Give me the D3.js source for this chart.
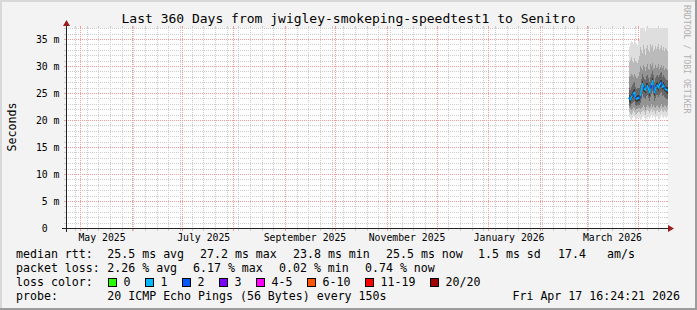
<!DOCTYPE html>
<html>
<head>
<meta charset="utf-8">
<script src="https://cdn.jsdelivr.net/npm/d3@7"></script>
<style>
  html, body { margin: 0; padding: 0; background: #f3f3f3; }
  svg { display: block; }
  text { white-space: pre; font-family: "DejaVu Sans Mono", monospace; }
</style>
</head>
<body>
<script>
// time frame of the graph
const endTime = new Date(Date.UTC(2026, 3, 17, 16, 24, 21));
const spanDays = 360;
const dataStart = new Date(Date.UTC(2026, 2, 26, 11, 0, 0));
const stepHours = 14.4;

// median rtt (ms) per step
const median = [24.0,23.8,24.3,24.6,24.9,25.1,24.2,23.9,24.0,24.1,24.1,24.6,25.6,26.7,26.0,25.7,25.6,26.2,26.3,25.8,
  25.1,25.9,26.6,27.2,26.4,25.1,25.8,26.3,26.4,26.0,26.5,26.8,26.9,26.1,26.4,26.0,25.7,25.6,25.5];
// lost pings (out of 20) per step
const loss = [0.3,1.1,0.6,0.4,1.2,0.6,0.3,1.1,0.3,0.2,0.4,1.1,0.3,0.2,0.5,1.1,0.4,0.3,1.2,0.6,
  0.2,0.4,1.1,0.3,0.5,1.1,0.4,0.3,1.15,0.5,0.4,0.3,0.6,1.05,0.4,0.3,1.1,0.1,0.15];

// smoke: sorted ping rtt pairs, outer to inner
const smoke1Hi = [33.5,34.2,34.6,34.4,34.0,34.8,34.5,34.3,33.9,34.6,35.0,38.5,38.0,37.2,38.5,38.8,36.5,38.0,38.6,38.2,
  37.5,38.8,38.4,38.9,37.8,38.2,38.6,38.0,38.4,38.9,37.6,38.3,38.6,38.1,38.7,37.9,38.4,38.2,37.8];
const smoke1Lo = [20.6,20.2,20.0,20.4,20.8,20.5,19.8,20.1,20.3,20.6,20.4,19.9,20.2,20.5,20.7,20.3,19.6,20.4,20.8,20.6,
  20.1,20.5,20.9,20.3,20.7,20.5,20.0,20.6,20.8,20.4,20.2,20.6,20.9,20.5,20.3,20.7,20.6,20.4,20.8];
const smoke2Hi = [30.8,31.2,31.6,31.0,30.6,31.4,31.0,30.8,30.5,31.2,31.8,33.6,33.0,32.4,33.8,33.2,32.0,33.4,33.9,33.0,
  32.6,34.0,33.5,33.8,32.8,33.2,33.7,33.1,33.5,34.0,32.9,33.4,33.8,33.0,33.6,32.8,33.3,33.1,32.7];
const smoke2Lo = [21.5,21.2,21.0,21.3,21.7,21.4,20.9,21.1,21.3,21.5,21.4,21.2,21.4,21.6,21.8,21.5,20.9,21.6,21.9,21.7,
  21.3,21.6,22.0,21.5,21.8,21.6,21.2,21.7,21.9,21.5,21.4,21.7,22.0,21.6,21.5,21.8,21.7,21.5,21.9];
const smoke3Hi = [28.0,28.2,28.6,28.4,28.0,28.5,28.1,27.8,27.7,28.2,28.8,30.0,29.6,29.2,30.2,29.8,29.0,29.8,30.3,29.5,
  29.2,30.4,30.0,30.5,29.4,29.7,30.1,29.6,29.9,30.4,29.5,29.9,30.2,29.6,30.0,29.3,29.7,29.5,29.2];
const smoke3Lo = [22.2,22.0,21.9,22.1,22.4,22.2,21.8,22.0,22.1,22.3,22.2,22.0,22.3,22.5,22.7,22.4,21.9,22.5,22.8,22.6,
  22.2,22.5,22.9,22.4,22.7,22.5,22.2,22.6,22.8,22.4,22.3,22.6,22.9,22.5,22.4,22.7,22.6,22.4,22.8];
const smoke4Hi = [25.9,25.6,26.2,26.5,26.8,27.0,26.1,25.7,25.9,26.0,26.0,26.5,27.6,28.6,28.0,27.6,27.5,28.1,28.3,27.7,
  27.0,27.9,28.5,29.0,28.3,27.1,27.7,28.2,28.4,27.9,28.4,28.7,28.8,28.0,28.3,27.9,27.6,27.5,27.4];
const smoke4Lo = [22.7,22.5,22.9,23.2,23.4,23.6,22.8,22.6,22.7,22.8,22.8,23.1,23.9,24.8,24.3,24.0,23.9,24.5,24.6,24.1,
  23.5,24.2,24.8,25.3,24.6,23.6,24.1,24.6,24.7,24.3,24.7,25.0,25.1,24.4,24.7,24.3,24.0,23.9,23.8];
const smoke5Hi = [24.6,24.4,24.9,25.2,25.5,25.7,24.8,24.5,24.6,24.7,24.7,25.2,26.2,27.3,26.6,26.3,26.2,26.8,26.9,26.4,
  25.7,26.5,27.2,27.8,27.0,25.7,26.4,26.9,27.0,26.6,27.1,27.4,27.5,26.7,27.0,26.6,26.3,26.2,26.1];
const smoke5Lo = [23.4,23.2,23.7,24.0,24.3,24.5,23.6,23.3,23.4,23.5,23.5,24.0,25.0,26.1,25.4,25.1,25.0,25.6,25.7,25.2,
  24.5,25.3,26.0,26.6,25.8,24.5,25.2,25.7,25.8,25.4,25.9,26.2,26.3,25.5,25.8,25.4,25.1,25.0,24.9];

// axis ticks
const yTicks = [0, 5, 10, 15, 20, 25, 30, 35];
const yLabels = ['0  ', '5 m', '10 m', '15 m', '20 m', '25 m', '30 m', '35 m'];
const xLabelAt = ['2025-05-14T00:00Z', '2025-07-14T00:00Z', '2025-09-12T18:00Z', '2025-11-13T00:00Z', '2026-01-13T06:00Z', '2026-03-16T06:00Z'];
const xLabels = ['May 2025', 'July 2025', 'September 2025', 'November 2025', 'January 2026', 'March 2026'];

// legend
const lossLabels = ['0', '1', '2', '3', '4-5', '6-10', '11-19', '20/20'];
const lossUpper = [0, 1, 2, 3, 5, 10, 19, 20];
const lossColors = ['#26ff00', '#00b8ff', '#0059ff', '#7e00ff', '#ff00ff', '#ff5500', '#ff0000', '#a10000'];
const rttStats = ['25.5 ms avg', '27.2 ms max', '23.8 ms min', '25.5 ms now', '1.5 ms sd', '17.4', 'am/s'];
const lossStats = ['2.26 % avg', '6.17 % max', '0.02 % min', '0.74 % now'];
const probeText = '20 ICMP Echo Pings (56 Bytes) every 150s';
const stampText = 'Fri Apr 17 16:24:21 2026';

// canvas
const w = 697, h = 310;
const X0 = 66, X1 = 666, Y0 = 228, Y1 = 28;

const svg = d3.select('body').append('svg')
  .attr('width', w)
  .attr('height', h);

svg.append('rect').attr('width', w).attr('height', h).attr('fill', '#f3f3f3');
// shaded frame
svg.append('path').attr('d', `M0,0H${w}V2H2V${h}H0Z`).attr('fill', '#d8d8d8');
svg.append('path').attr('d', `M${w},${h}H0V${h-2}H${w-2}V0H${w}Z`).attr('fill', '#9c9c9c');

svg.append('rect')
  .attr('x', X0).attr('y', Y1)
  .attr('width', X1 - X0 + 2).attr('height', Y0 - Y1)
  .attr('fill', '#ffffff');

// scales
const startTime = d3.utcDay.offset(endTime, -spanDays);
const x = d3.scaleUtc().domain([startTime, endTime]).range([X0, X1]);
const y = d3.scaleLinear().domain([0, (Y0 - Y1) / 5.4]).range([Y0, Y1]);

const times = median.map((d, i) => new Date(+dataStart + i * stepHours * 3600e3));

// grid
const grid = svg.append('g');
const minorY = d3.range(0, 38).filter(v => v % 5 !== 0);
const weeks = d3.utcMonday.range(startTime, endTime);
const months = d3.utcMonth.range(startTime, endTime);

function hLine(v, col) {
  const yy = Math.round(y(v)) + 0.5;
  grid.append('line').attr('x1', X0 - 2).attr('x2', X0).attr('y1', yy).attr('y2', yy).attr('stroke', col);
  grid.append('line').attr('x1', X1).attr('x2', X1 + 2).attr('y1', yy).attr('y2', yy).attr('stroke', col);
  grid.append('line').attr('x1', X0).attr('x2', X1).attr('y1', yy).attr('y2', yy)
    .attr('stroke', col).attr('stroke-dasharray', '1,1');
}
function vLine(t, col) {
  const xx = Math.round(x(t)) + 0.5;
  grid.append('line').attr('x1', xx).attr('x2', xx).attr('y1', Y1 - 2).attr('y2', Y1).attr('stroke', col);
  grid.append('line').attr('x1', xx).attr('x2', xx).attr('y1', Y0).attr('y2', Y0 + 3).attr('stroke', col);
  grid.append('line').attr('x1', xx).attr('x2', xx).attr('y1', Y1).attr('y2', Y0)
    .attr('stroke', col).attr('stroke-dasharray', '1,1');
}
minorY.forEach(v => hLine(v, '#cccccc'));
weeks.forEach(t => vLine(t, '#cccccc'));
yTicks.forEach(v => hLine(v, '#f39a9a'));
months.forEach(t => vLine(t, '#f39a9a'));

// smoke
svg.append('clipPath').attr('id', 'plot')
  .append('rect').attr('x', X0).attr('y', Y1).attr('width', X1 - X0 + 2).attr('height', Y0 - Y1);

const layers = [
  {lo: smoke1Lo, hi: smoke1Hi, color: '#dedede'},
  {lo: smoke2Lo, hi: smoke2Hi, color: '#bababa'},
  {lo: smoke3Lo, hi: smoke3Hi, color: '#939393'},
  {lo: smoke4Lo, hi: smoke4Hi, color: '#676767'},
  {lo: smoke5Lo, hi: smoke5Hi, color: '#3c3c3c'}
];

const smoke = svg.append('g').attr('clip-path', 'url(#plot)');
layers.forEach(l => {
  smoke.selectAll(null)
    .data(times)
    .enter()
    .append('rect')
    .attr('x', (d) => Math.round(x(d)))
    .attr('width', 1)
    .attr('y', (d, i) => y(l.hi[i]))
    .attr('height', (d, i) => y(l.lo[i]) - y(l.hi[i]))
    .attr('fill', l.color)
    .attr('shape-rendering', 'crispEdges');
});

// median line coloured by loss
const lossClass = v => lossUpper.findIndex(u => v <= u);
const med = svg.append('g').attr('clip-path', 'url(#plot)');
for (let i = 0; i < times.length; i++) {
  const col = lossColors[lossClass(loss[i])];
  const x2 = Math.round(x(times[i])) + 0.5;
  const x1 = i > 0 ? Math.round(x(times[i - 1])) + 0.5 : x2 - 1;
  const y1 = i > 0 ? y(median[i - 1]) : y(median[i]);
  med.append('line')
    .attr('x1', x1).attr('y1', y1)
    .attr('x2', x2).attr('y2', y(median[i]))
    .attr('stroke', col)
    .attr('stroke-width', 1.4)
    .attr('stroke-linecap', 'square');
}

// axes lines and arrows
svg.append('line').attr('x1', X0 - 4).attr('x2', X1 + 4).attr('y1', Y0 + 0.5).attr('y2', Y0 + 0.5).attr('stroke', '#222');
svg.append('line').attr('x1', X0 + 0.5).attr('x2', X0 + 0.5).attr('y1', Y0 + 4).attr('y2', Y1 - 4).attr('stroke', '#222');
svg.append('path').attr('d', `M${X1 + 2},${Y0 - 3}L${X1 + 2},${Y0 + 4}L${X1 + 8},${Y0 + 0.5}Z`).attr('fill', '#9b1c1c');
svg.append('path').attr('d', `M${X0 - 3},${Y1 - 2}L${X0 + 4},${Y1 - 2}L${X0 + 0.5},${Y1 - 8}Z`).attr('fill', '#9b1c1c');

// tick labels through d3 axes
const yAxis = d3.axisLeft(y).tickValues(yTicks).tickFormat((d, i) => yLabels[i]).tickSize(0).tickPadding(6.5);
svg.append('g')
  .attr('transform', `translate(${X0},0)`)
  .call(yAxis)
  .call(g => g.select('.domain').remove())
  .attr('font-family', '"DejaVu Sans Mono", monospace')
  .attr('font-size', 9.8);

const xLabelDates = xLabelAt.map(s => new Date(s));
const xAxis = d3.axisBottom(x).tickValues(xLabelDates).tickFormat((d, i) => xLabels[i]).tickSize(0).tickPadding(6);
svg.append('g')
  .attr('transform', `translate(0,${Y0})`)
  .call(xAxis)
  .call(g => g.select('.domain').remove())
  .attr('font-family', '"DejaVu Sans Mono", monospace')
  .attr('font-size', 9.8);

// title and side texts
svg.append('text')
  .attr('x', w / 2)
  .attr('y', 23)
  .attr('text-anchor', 'middle')
  .style('font-size', '13px')
  .text('Last 360 Days from jwigley-smokeping-speedtest1 to Senitro');

svg.append('text')
  .attr('transform', 'translate(15.5,127) rotate(-90)')
  .attr('text-anchor', 'middle')
  .style('font-size', '11.6px')
  .text('Seconds');

svg.append('text')
  .attr('transform', 'translate(683.5,5) rotate(90)')
  .style('font-size', '8.2px')
  .attr('fill', '#b0b0b0')
  .text('RRDTOOL / TOBI OETIKER');

// legend
const legend = svg.append('g').style('font-size', '11.6px');
const rttX = [107.3, 200, 293, 386, 478, 558, 607];
const lossX = [107.3, 193, 279, 365];
const boxX = [108.5, 145.5, 182.5, 219.5, 256.5, 307.5, 365.5, 430.5];

legend.append('text').attr('x', 16).attr('y', 258).text('median rtt:');
rttStats.forEach((s, i) => legend.append('text').attr('x', rttX[i]).attr('y', 258).text(s));

legend.append('text').attr('x', 16).attr('y', 272).text('packet loss:');
lossStats.forEach((s, i) => legend.append('text').attr('x', lossX[i]).attr('y', 272).text(s));

legend.append('text').attr('x', 16).attr('y', 286).text('loss color:');
lossLabels.forEach((s, i) => {
  legend.append('rect')
    .attr('x', boxX[i]).attr('y', 278.5)
    .attr('width', 8).attr('height', 8)
    .attr('fill', lossColors[i])
    .attr('stroke', '#000');
  legend.append('text').attr('x', boxX[i] + 15).attr('y', 286).text(s);
});

legend.append('text').attr('x', 16).attr('y', 300).text('probe:');
legend.append('text').attr('x', 107.3).attr('y', 300).text(probeText);
legend.append('text').attr('x', 680).attr('y', 300).attr('text-anchor', 'end').text(stampText);
</script>
</body>
</html>
